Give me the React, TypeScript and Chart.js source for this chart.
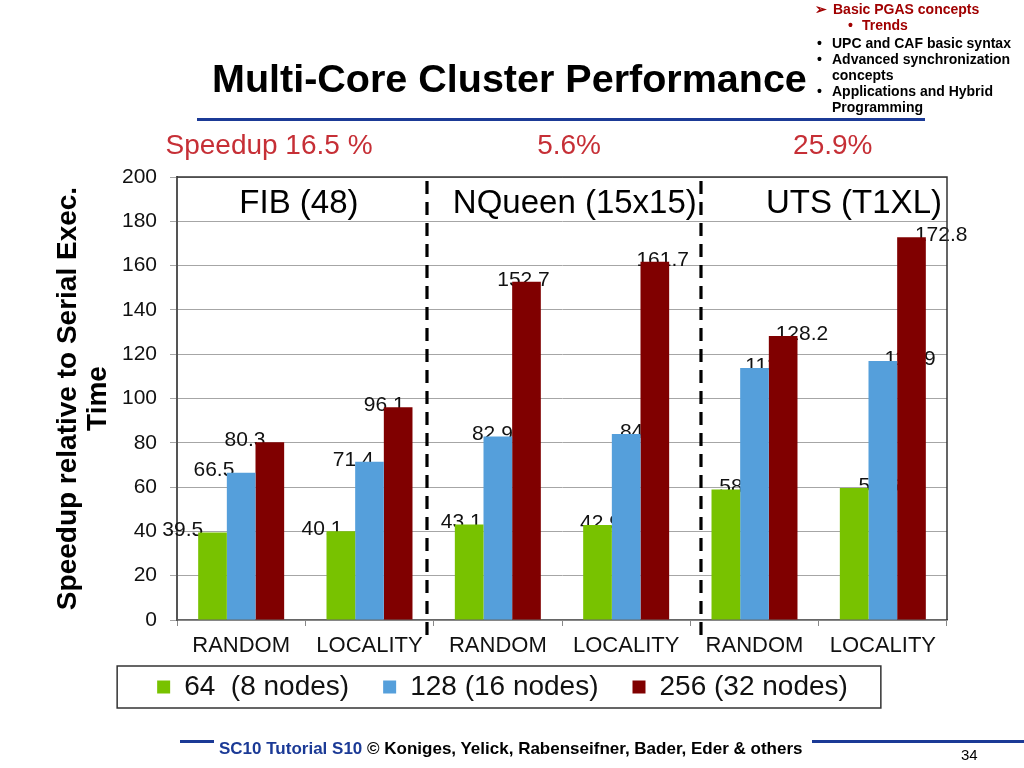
import React, { useEffect, useRef } from 'react';
import { Chart, registerables } from 'chart.js';

Chart.register(...registerables);

// ---------- data ----------
const categories = ['RANDOM', 'LOCALITY', 'RANDOM', 'LOCALITY', 'RANDOM', 'LOCALITY'];
const seriesNames = ['64  (8 nodes)', '128 (16 nodes)', '256 (32 nodes)'];
const nodes64 = [39.5, 40.1, 43.1, 42.9, 58.9, 59.6];
const nodes128 = [66.5, 71.4, 82.9, 84, 113.8, 116.9];
const nodes256 = [80.3, 96.1, 152.7, 161.7, 128.2, 172.8];
const yMin = 0;
const yMax = 200;
const yStep = 20;
const groupNames = ['FIB (48)', 'NQueen (15x15)', 'UTS (T1XL)'];
const speedups = ['Speedup 16.5 %', '5.6%', '25.9%'];
// positions in category units (index scale)
const groupPos = [0.45, 2.6, 4.775];
const speedupPos = [0.217, 2.555, 4.61];
const dividerPos = [1.448, 3.583];

const seriesColors = ['#78C200', '#559FDB', '#800000'];
const FONT = '"Liberation Sans", Arial, Helvetica, sans-serif';

const bulletsTop = [
  { sym: '\u27A2', symX: 815, x: 833, base: 14, text: 'Basic PGAS concepts', color: '#A00000' },
  { sym: '\u2022', symX: 848, x: 862, base: 30, text: 'Trends', color: '#A00000' },
  { sym: '\u2022', symX: 817, x: 832, base: 48, text: 'UPC and CAF basic syntax', color: '#000' },
  { sym: '\u2022', symX: 817, x: 832, base: 64, text: 'Advanced synchronization', color: '#000' },
  { sym: '', symX: 817, x: 832, base: 80, text: 'concepts', color: '#000' },
  { sym: '\u2022', symX: 817, x: 832, base: 96, text: 'Applications and Hybrid', color: '#000' },
  { sym: '', symX: 817, x: 832, base: 112, text: 'Programming', color: '#000' },
];

const annotate = {
  id: 'annotate',
  beforeDatasetsDraw(chart: any) {
    const ctx = chart.ctx;
    const ca = chart.chartArea;
    const mid = (ca.left + ca.right) / 2;
    ctx.save();
    ctx.font = `21px ${FONT}`;
    ctx.fillStyle = '#111';
    ctx.textAlign = 'center';
    ctx.textBaseline = 'middle';
    chart.data.datasets.forEach((ds: any, di: number) => {
      chart.getDatasetMeta(di).data.forEach((bar: any, i: number) => {
        const x = bar.x + (bar.x - mid) * 0.085;
        ctx.fillText(String(ds.data[i]), x, bar.y - 2);
      });
    });
    ctx.restore();
  },
  afterDatasetsDraw(chart: any) {
    const ctx = chart.ctx;
    const ca = chart.chartArea;
    const xs = chart.scales.x;
    ctx.save();
    // frame top & right
    ctx.strokeStyle = '#333';
    ctx.lineWidth = 1.5;
    ctx.beginPath();
    ctx.moveTo(ca.left, ca.top);
    ctx.lineTo(ca.right, ca.top);
    ctx.lineTo(ca.right, ca.bottom);
    ctx.stroke();
    // dashed dividers
    ctx.strokeStyle = '#000';
    ctx.lineWidth = 3.2;
    ctx.setLineDash([13, 8]);
    dividerPos.forEach((p) => {
      const x = xs.getPixelForValue(p);
      ctx.beginPath();
      ctx.moveTo(x, ca.top + 4);
      ctx.lineTo(x, ca.bottom + 19);
      ctx.stroke();
    });
    ctx.setLineDash([]);
    // group labels
    ctx.fillStyle = '#000';
    ctx.textAlign = 'center';
    ctx.textBaseline = 'middle';
    ctx.font = `33px ${FONT}`;
    groupNames.forEach((g, i) => {
      ctx.fillText(g, xs.getPixelForValue(groupPos[i]), ca.top + 27);
    });
    // speedup labels
    ctx.fillStyle = '#C62F36';
    ctx.font = `28px ${FONT}`;
    speedups.forEach((s, i) => {
      ctx.fillText(s, xs.getPixelForValue(speedupPos[i]), ca.top - 31);
    });
    ctx.restore();
  },
  afterDraw(chart: any) {
    const lg = chart.legend;
    if (!lg || !lg.legendHitBoxes || !lg.legendHitBoxes.length) return;
    const hb = lg.legendHitBoxes;
    const first = hb[0];
    const last = hb[hb.length - 1];
    const cy = first.top + first.height / 2;
    const ctx = chart.ctx;
    ctx.save();
    ctx.strokeStyle = '#333';
    ctx.lineWidth = 1.5;
    const l = first.left - 40;
    const r = last.left + last.width + 33;
    ctx.strokeRect(l, cy - 21, r - l, 42);
    ctx.restore();
  },
};

function BarChart() {
  const ref = useRef<HTMLCanvasElement | null>(null);
  useEffect(() => {
    if (!ref.current) return;
    const chart = new Chart(ref.current, {
      type: 'bar',
      data: {
        labels: categories,
        datasets: [nodes64, nodes128, nodes256].map((d, i) => ({
          label: seriesNames[i],
          data: d,
          backgroundColor: seriesColors[i],
          borderWidth: 0,
          barPercentage: 1,
          categoryPercentage: 0.67,
        })),
      },
      options: {
        responsive: false,
        animation: false,
        devicePixelRatio: 1,
        layout: { padding: { left: 58, right: 77, top: 177, bottom: 57 } },
        plugins: {
          tooltip: { enabled: false },
          title: { display: false },
          legend: {
            position: 'bottom',
            labels: {
              boxWidth: 13,
              boxHeight: 13,
              padding: 34,
              color: '#111',
              font: { family: FONT, size: 28 },
            },
          },
        },
        scales: {
          x: {
            afterFit: (s: any) => { s.height = 19; },
            grid: { offset: true, drawOnChartArea: false, drawTicks: true, tickLength: 6, color: '#888' },
            border: { color: '#666', width: 1.5 },
            ticks: { color: '#111', font: { family: FONT, size: 22 }, mirror: true, padding: -39, maxRotation: 0, autoSkip: false },
          },
          y: {
            min: yMin,
            max: yMax,
            afterFit: (s: any) => { s.width = 177 - 58; },
            grid: { color: '#A6A6A6', lineWidth: 1, tickLength: 7 },
            border: { color: '#555', width: 2 },
            ticks: { stepSize: yStep, color: '#111', font: { family: FONT, size: 21 }, padding: 13 },
            title: {
              display: true,
              text: ['Speedup relative to Serial Exec.', 'Time'],
              color: '#000',
              font: { family: FONT, size: 28, weight: 'bold', lineHeight: 1.07 },
              padding: { top: -5, bottom: 0 },
            },
          },
        },
      },
      plugins: [annotate],
    } as any);
    return () => chart.destroy();
  }, []);
  return <canvas ref={ref} width={1024} height={768} style={{ position: 'absolute', left: 0, top: 0 }} />;
}

function TextAt(props: { x: number; base: number; size: number; bold?: boolean; color?: string; children: any }) {
  const { x, base, size, bold, color, children } = props;
  return (
    <div
      style={{
        position: 'absolute',
        left: x,
        top: base - 0.8465 * size,
        fontFamily: FONT,
        fontSize: size,
        fontWeight: bold ? 'bold' : 'normal',
        lineHeight: 1,
        color: color || '#000',
        whiteSpace: 'pre',
      }}
    >
      {children}
    </div>
  );
}

export default function App() {
  return (
    <div style={{ position: 'absolute', left: 0, top: 0, width: 1024, height: 768, background: '#fff', overflow: 'hidden' }}>
      <BarChart />
      <TextAt x={212} base={92} size={39.5} bold>Multi-Core Cluster Performance</TextAt>
      <div style={{ position: 'absolute', left: 197, top: 118, width: 728, height: 3, background: '#1B3A96' }} />
      {bulletsTop.map((b, i) => (
        <React.Fragment key={i}>
          {b.sym ? <TextAt x={b.symX} base={b.base} size={14} bold color={b.color}>{b.sym}</TextAt> : null}
          <TextAt x={b.x} base={b.base} size={14} bold color={b.color}>{b.text}</TextAt>
        </React.Fragment>
      ))}
      <div style={{ position: 'absolute', left: 180, top: 740, width: 34, height: 3, background: '#1B3A96' }} />
      <div style={{ position: 'absolute', left: 812, top: 740, width: 212, height: 3, background: '#1B3A96' }} />
      <TextAt x={219} base={754} size={17} bold>
        <span style={{ color: '#1B3A96' }}>SC10 Tutorial S10</span> © Koniges, Yelick, Rabenseifner, Bader, Eder &amp; others
      </TextAt>
      <TextAt x={961} base={760} size={15}>34</TextAt>
    </div>
  );
}
